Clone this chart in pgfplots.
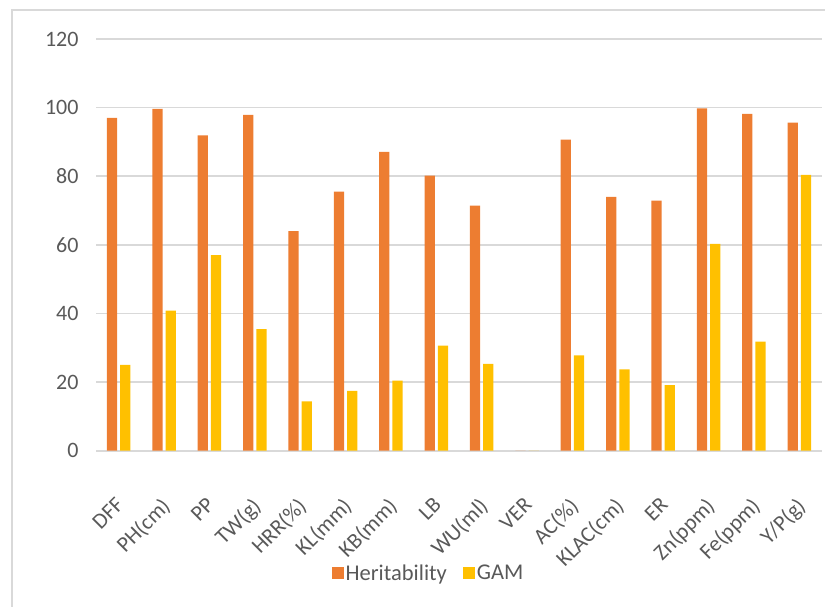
\documentclass[border=0pt]{standalone}
\usepackage{pgfplots}
\pgfplotsset{compat=1.18}
\usepackage{fontspec}
\setmainfont{Carlito}
\definecolor{herit}{HTML}{ED7D31}
\definecolor{gam}{HTML}{FFC000}
\definecolor{gridgray}{HTML}{D9D9D9}
\definecolor{txtgray}{HTML}{595959}
\begin{document}
\begin{tikzpicture}
\path[use as bounding box] (0,0) rectangle (825pt,607pt);
% chart frame (left and top edges visible)
\draw[gridgray,line width=1.5pt] (12pt,0) -- (12pt,597pt) -- (825pt,597pt);
\begin{axis}[
  at={(96pt,156.3pt)}, anchor=south west,
  scale only axis, width=726pt, height=411.7pt,
  ybar, bar width=10.3pt,
  ymin=0, ymax=120, ytick={0,20,...,120},
  xmin=-0.5, xmax=15.5,
  xtick=data,
  xticklabels={DFF,PH(cm),PP,TW(g),HRR(\%),KL(mm),KB(mm),LB,WU(ml),VER,AC(\%),KLAC(cm),ER,Zn(ppm),Fe(ppm),Y/P(g)},
  axis line style={draw=none},
  tick style={draw=none},
  ymajorgrids, grid style={gridgray,line width=1.5pt},
  extra y ticks={0}, extra y tick labels={},
  extra y tick style={grid style={gridgray,line width=1.8pt}},
  /pgf/number format/assume math mode=true,
  tick label style={font=\fontsize{22}{26}\selectfont, text=txtgray},
  yticklabel style={xshift=-14pt},
  xticklabel style={xshift=-4pt, yshift=-41pt, rotate=45, anchor=north east, inner sep=0pt},
  legend style={at={(0.458,-0.297)}, anchor=center, draw=none, fill=none,
    font=\fontsize{22.5}{27}\selectfont, text=txtgray, legend columns=2,
    /tikz/every even column/.append style={column sep=14pt}},
  legend image code/.code={\fill[#1,draw=none] (0pt,-6pt) rectangle (12pt,6pt);},
]
\addplot[fill=herit, draw=none, bar shift=-6.65pt] coordinates {
  (0,97.0) (1,99.6) (2,91.9) (3,97.9) (4,64.0) (5,75.5) (6,87.1) (7,80.2)
  (8,71.4) (9,0) (10,90.7) (11,74.0) (12,72.9) (13,99.8) (14,98.2) (15,95.6)};
\addplot[fill=gam, draw=none, bar shift=6.65pt] coordinates {
  (0,25.0) (1,40.8) (2,57.0) (3,35.4) (4,14.4) (5,17.4) (6,20.4) (7,30.6)
  (8,25.3) (9,0) (10,27.8) (11,23.7) (12,19.1) (13,60.3) (14,31.8) (15,80.4)};
\legend{Heritability,GAM}
\end{axis}
\end{tikzpicture}
\end{document}
